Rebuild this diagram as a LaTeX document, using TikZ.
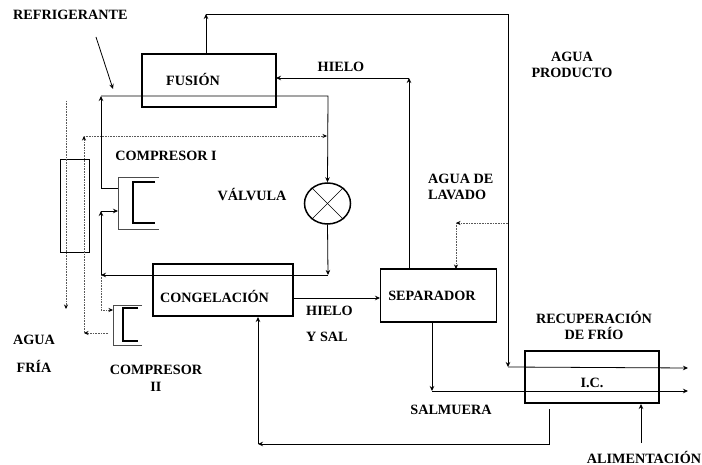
\documentclass[tikz,border=0pt]{standalone}
\usepackage{fontspec}
\setmainfont{Liberation Serif}
\usetikzlibrary{shapes.geometric, arrows.meta}
\tikzset{
  caja/.style={draw, line width=1.6pt, inner sep=0pt, outer sep=0pt},
  etiqueta/.style={font=\fontsize{14.2}{16.6}\selectfont\bfseries, inner sep=0pt, align=center},
  linea/.style={line width=0.8pt},
  traza/.style={line width=0.6pt, black!65, densely dotted, arrows={-Stealth[length=4.5pt, width=4pt, black]}},
  carcasa/.style={line width=0.7pt, black!70},
  rotor/.style={line width=1.5pt}
}
\begin{document}
\begin{tikzpicture}[x=1pt, y=-1pt, >={Stealth[length=5pt, width=4.5pt]}]
  \useasboundingbox (0,0) rectangle (702,465);
  % equipos
  \node[caja, minimum width=134, minimum height=53] (fusion) at (209,80.5) {};
  \node[caja, minimum width=140, minimum height=52] (congelacion) at (223,290) {};
  \node[caja, minimum width=116, minimum height=53] (separador) at (438.5,295.5) {};
  \node[caja, minimum width=134, minimum height=52] (ic) at (592,377) {};
  \node[draw, line width=0.8pt, inner sep=0pt, minimum width=29, minimum height=93] (torre) at (74.5,205.5) {};
  \node[draw, ellipse, line width=1.5pt, inner sep=0pt, minimum width=46, minimum height=41] (valvula) at (327.5,203.5) {};
  \draw[line width=0.6pt] (valvula.45) -- (valvula.225);
  \draw[line width=0.6pt] (valvula.135) -- (valvula.315);
  % compresores
  \draw[carcasa] (159,177) -- (118,177) -- (118,229) -- (159,229);
  \draw[rotor] (155,182) -- (133,182) -- (133,223) -- (155,223);
  \draw[carcasa] (142,305) -- (113,305) -- (113,345) -- (142,345);
  \draw[rotor] (138,308) -- (123,308) -- (123,341) -- (138,341);
  % puntos de paso
  \coordinate (refA) at (96,37);
  \coordinate (refB) at (113,89);
  \coordinate (nSup) at (101,96);
  \coordinate (nDer) at (328,96);
  \coordinate (nInfD) at (328,275);
  \coordinate (nInfI) at (101,275);
  \coordinate (cIsal) at (118,188);
  \coordinate (cIsalB) at (101,188);
  \coordinate (cIent) at (118,211);
  \coordinate (cIentB) at (101,211);
  \coordinate (cIIent) at (113,310);
  \coordinate (cIIentB) at (101,310);
  \coordinate (prodA) at (206,54);
  \coordinate (prodB) at (206,14);
  \coordinate (prodC) at (508,14);
  \coordinate (prodD) at (508,367);
  \coordinate (prodE) at (688,368);
  \coordinate (hieloA) at (409,269);
  \coordinate (hieloB) at (409,78);
  \coordinate (hieloC) at (276,78);
  \coordinate (saladaA) at (293,298);
  \coordinate (saladaB) at (380,298);
  \coordinate (lavA) at (508,223);
  \coordinate (lavB) at (456,223);
  \coordinate (lavC) at (456,269);
  \coordinate (salA) at (432,322);
  \coordinate (salB) at (432,391);
  \coordinate (salC) at (688,391);
  \coordinate (alimA) at (641,443);
  \coordinate (alimB) at (641,404);
  \coordinate (retA) at (549,409);
  \coordinate (retB) at (549,444);
  \coordinate (retC) at (258,444);
  \coordinate (retD) at (258,317);
  \coordinate (friaA) at (66,101);
  \coordinate (friaB) at (66,309);
  \coordinate (aguaA) at (108,333);
  \coordinate (aguaB) at (84,333);
  \coordinate (aguaC) at (84,136);
  \coordinate (aguaD) at (327,136);
  % circuito del refrigerante
  \draw[->, linea] (refA) -- (refB);
  \draw[->, linea] (cIsal) -- (cIsalB) -- (nSup);
  \draw[->, linea] (nSup) -- (nDer) -- (valvula.north);
  \draw[->, linea] (valvula.south) -- (nInfD);
  \draw[->, linea] (nInfD) -- (nInfI);
  \draw[->, linea] (nInfI) -- (cIentB);
  \draw[->, linea] (cIentB) -- (cIent);
  \draw[traza] (nInfI) -- (cIIentB) -- (cIIent);
  % agua
  \draw[->, linea] (prodA) -- (prodB);
  \draw[->, linea] (prodB) -- (prodC) -- (prodD);
  \draw[->, linea] (prodD) -- (prodE);
  \draw[->, linea] (hieloA) -- (hieloB);
  \draw[->, linea] (hieloB) -- (hieloC);
  \draw[->, linea] (saladaA) -- (saladaB);
  \draw[traza] (lavA) -- (lavB);
  \draw[traza] (lavB) -- (lavC);
  \draw[->, linea] (salA) -- (salB);
  \draw[->, linea] (salB) -- (salC);
  \draw[->, linea] (alimA) -- (alimB);
  \draw[->, linea] (retA) -- (retB) -- (retC);
  \draw[->, linea] (retC) -- (retD);
  % agua fria
  \draw[traza] (friaA) -- (friaB);
  \draw[traza] (aguaA) -- (aguaB);
  \draw[traza] (aguaB) -- (aguaC);
  \draw[traza] (aguaC) -- (aguaD);
  % textos
  \node[etiqueta, anchor=west] (tRefrigerante) at (13,15) {REFRIGERANTE};
  \node[etiqueta] (tFusion) at (193,79) {FUSIÓN};
  \node[etiqueta] (tHieloA) at (341,67) {HIELO};
  \node[etiqueta] (tProducto) at (572,65) {AGUA\\PRODUCTO};
  \node[etiqueta] (tCompI) at (166,156) {COMPRESOR I};
  \node[etiqueta] (tValvula) at (252,195) {VÁLVULA};
  \node[etiqueta, align=left, anchor=west] (tLavado) at (428,187) {AGUA DE\\LAVADO};
  \node[etiqueta] (tCongelacion) at (214.5,296) {CONGELACIÓN};
  \node[etiqueta, anchor=west] (tHieloB) at (306,311) {HIELO};
  \node[etiqueta, anchor=west] (tSal) at (306,337) {Y SAL};
  \node[etiqueta] (tSeparador) at (432,296) {SEPARADOR};
  \node[etiqueta] (tAgua) at (34,340) {AGUA};
  \node[etiqueta] (tFria) at (34,366) {FRÍA};
  \node[etiqueta] (tCompII) at (156,378) {COMPRESOR\\II};
  \node[etiqueta] (tRecup) at (594,325.5) {RECUPERACIÓN\\DE FRÍO};
  \node[etiqueta] (tIC) at (592,383) {I.C.};
  \node[etiqueta] (tSalmuera) at (451,410) {SALMUERA};
  \node[etiqueta] (tAlim) at (644,457) {ALIMENTACIÓN};
\end{tikzpicture}
\end{document}
